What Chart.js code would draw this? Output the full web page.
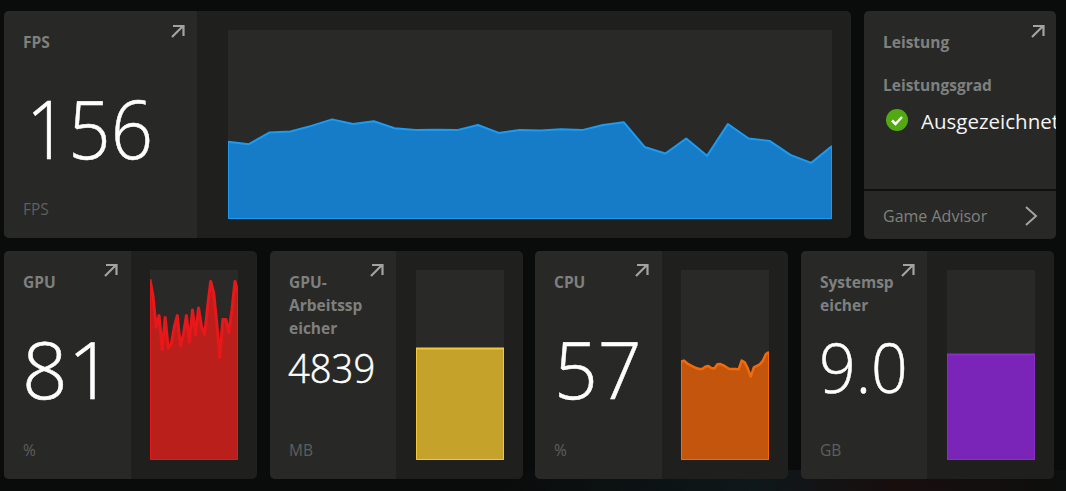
<!DOCTYPE html>
<html>
<head>
<meta charset="utf-8">
<script src="https://cdn.jsdelivr.net/npm/chart.js@4/dist/chart.umd.min.js"></script>
<style>
html, body { margin: 0; padding: 0; width: 1066px; height: 491px; overflow: hidden; }
body { position: relative; background: #0a0c0b; font-family: "Open Sans", "Noto Sans", sans-serif; }
#glow { position: absolute; left: 500px; top: 470px; width: 566px; height: 21px;
    background: linear-gradient(90deg, rgba(20,30,32,0) 0%, rgba(16,28,32,.7) 45%, rgba(34,16,16,.6) 70%, rgba(18,20,20,.3) 100%); }
.card { position: absolute; background: #1f201e; border-radius: 5px; overflow: hidden; }
.side { position: absolute; left: 0; top: 0; bottom: 0; background: #282927; }
.abs { position: absolute; white-space: nowrap; }
.label { color: #7f807e; font-size: 15.5px; font-weight: 700; line-height: 23px; }
.unit { color: #5e5f5d; font-size: 15.5px; line-height: 20px; }
.num { color: #fff; font-weight: 300; line-height: 1; transform-origin: left top; -webkit-text-stroke: 0.5px #fff; }
canvas { position: absolute; display: block; background: #292a28; }
svg { position: absolute; }
</style>
</head>
<body>
<div id="glow"></div>

<div class="card" style="left:4px;top:11px;width:847px;height:227px">
  <div class="side" style="width:193px"></div>
</div>
<div class="card" style="left:864px;top:11px;width:192px;height:228px;background:#282927">
  <div style="position:absolute;left:0;right:0;top:178px;height:2px;background:#0f100f"></div>
</div>
<div class="card" style="left:4px;top:251px;width:253px;height:228px"><div class="side" style="width:127px"></div></div>
<div class="card" style="left:270px;top:251px;width:253px;height:228px"><div class="side" style="width:126px"></div></div>
<div class="card" style="left:535px;top:251px;width:253px;height:228px"><div class="side" style="width:127px"></div></div>
<div class="card" style="left:801px;top:251px;width:253px;height:228px"><div class="side" style="width:126px"></div></div>

<div class="abs label" style="left:23px;top:31px">FPS</div>
<div class="abs num" style="left:26px;top:86px;font-size:82px;transform:scaleX(.905)">156</div>
<div class="abs unit" style="left:23px;top:199px">FPS</div>

<div class="abs label" style="left:883px;top:31px;color:#80817f">Leistung</div>
<div class="abs label" style="left:883px;top:74px">Leistungsgrad</div>
<div class="abs" style="left:921px;top:107px;color:#f4f4f4;font-size:20.500px;line-height:28px;width:135px;overflow:hidden">Ausgezeichnet</div>
<div class="abs" style="left:883px;top:206px;color:#80817f;font-size:16px;line-height:20px">Game Advisor</div>

<div class="abs label" style="left:23px;top:271px">GPU</div>
<div class="abs num" style="left:22px;top:328px;font-size:80px">81</div>
<div class="abs unit" style="left:23px;top:440px">%</div>

<div class="abs label" style="left:289px;top:271px">GPU-<br>Arbeitssp<br>eicher</div>
<div class="abs num" style="left:288px;top:348px;font-size:40px;transform:scaleX(.955)">4839</div>
<div class="abs unit" style="left:289px;top:440px">MB</div>

<div class="abs label" style="left:554px;top:271px">CPU</div>
<div class="abs num" style="left:554px;top:328px;font-size:80px;transform:scaleX(.96)">57</div>
<div class="abs unit" style="left:554px;top:440px">%</div>

<div class="abs label" style="left:820px;top:271px">Systemsp<br>eicher</div>
<div class="abs num" style="left:819px;top:333px;font-size:68px;transform:scaleX(.945)">9.0</div>
<div class="abs unit" style="left:820px;top:440px">GB</div>

<canvas id="fpsChart" width="604" height="189" style="left:228px;top:30px"></canvas>
<canvas id="gpuChart" width="88" height="190" style="left:150px;top:270px"></canvas>
<canvas id="vramChart" width="88" height="190" style="left:416px;top:270px"></canvas>
<canvas id="cpuChart" width="88" height="190" style="left:681px;top:270px"></canvas>
<canvas id="ramChart" width="88" height="190" style="left:947px;top:270px"></canvas>

<svg style="left:0;top:0" width="1066" height="491" fill="none" stroke="#a3a4a2" stroke-width="2.200">
  <g id="arrows">
    <path d="M172 37 L183 26 M173 26 H183.500 V36"/>
    <path d="M1032 37 L1043 26 M1033 26 H1043.500 V36"/>
    <path d="M105 276 L116 265 M106 265 H116.500 V275"/>
    <path d="M371 276 L382 265 M372 265 H382.500 V275"/>
    <path d="M636 276 L647 265 M637 265 H647.500 V275"/>
    <path d="M902 276 L913 265 M903 265 H913.500 V275"/>
  </g>
  <path d="M1026 207 L1036 216 L1026 225" stroke-width="2"/>
  <circle cx="897" cy="120" r="11" fill="#52a911" stroke="none"/>
  <path d="M892 120.500 L895.500 124 L902 117" stroke="#fff" stroke-width="2.500"/>
</svg>

<script>
const fpsValues = [165, 160, 185, 187, 199, 213, 203, 209, 194, 190, 191, 190, 201, 184, 190,
    189, 192, 190, 201, 207, 154, 140, 172, 135, 203, 172, 167, 137, 120, 156];
const gpuValues = [95, 86, 70, 76, 58, 75, 59, 61, 70, 76, 60, 66, 76, 62, 79,
    66, 80, 70, 66, 81, 94, 88, 72, 54, 74, 74, 67, 79, 94, 88];
const vramValues = [4839, 4839, 4839, 4839, 4839, 4839, 4839, 4839, 4839, 4839, 4839, 4839, 4839, 4839, 4839,
    4839, 4839, 4839, 4839, 4839, 4839, 4839, 4839, 4839, 4839, 4839, 4839, 4839, 4839, 4839];
const cpuValues = [51.8, 52.3, 50.9, 50, 49.1, 48.4, 47.9, 47.9, 49.1, 49.5, 48.4, 48.2, 50.4, 50.5, 49.8,
    48.8, 47.9, 47.9, 47.9, 47.7, 52.3, 51.4, 48.2, 43.9, 48.8, 49.5, 50.4, 52.3, 55.8, 56.8];
const ramValues = [9.0, 9.0, 9.0, 9.0, 9.0, 9.0, 9.0, 9.0, 9.0, 9.0, 9.0, 9.0, 9.0, 9.0, 9.0,
    9.0, 9.0, 9.0, 9.0, 9.0, 9.0, 9.0, 9.0, 9.0, 9.0, 9.0, 9.0, 9.0, 9.0, 9.0];

// thin lighter border on the sides and bottom of the filled area
const areaEdge = {
    id: 'areaEdge',
    afterDatasetsDraw(chart) {
        const pts = chart.getDatasetMeta(0).data;
        const { ctx, chartArea } = chart;
        const ds = chart.data.datasets[0];
        ctx.save();
        ctx.strokeStyle = ds.borderColor;
        ctx.lineWidth = 1;
        ctx.beginPath();
        ctx.moveTo(chartArea.left + 0.5, pts[0].y);
        ctx.lineTo(chartArea.left + 0.5, chartArea.bottom - 0.5);
        ctx.lineTo(chartArea.right - 0.5, chartArea.bottom - 0.5);
        ctx.lineTo(chartArea.right - 0.5, pts[pts.length - 1].y);
        ctx.stroke();
        ctx.restore();
    }
};

function drawArea(id, values, maxValue, fillColor, lineColor, lineWidth) {
    return new Chart(document.getElementById(id), {
        type: 'line',
        plugins: [areaEdge],
        data: {
            labels: values.map((v, i) => i),
            datasets: [{
                data: values,
                fill: 'origin',
                backgroundColor: fillColor,
                borderColor: lineColor,
                borderWidth: lineWidth,
                borderJoinStyle: 'round',
                pointRadius: 0,
                tension: 0
            }]
        },
        options: {
            responsive: false,
            animation: false,
            devicePixelRatio: 1,
            layout: { padding: 0 },
            plugins: { legend: { display: false }, tooltip: { enabled: false } },
            scales: {
                x: { display: false, offset: false },
                y: { display: false, min: 0, max: maxValue }
            }
        }
    });
}

drawArea('fpsChart', fpsValues, 404, '#177cc7', '#1c9bf0', 2);
drawArea('gpuChart', gpuValues, 100, '#bb1f1c', '#e81719', 3);
drawArea('vramChart', vramValues, 8250, '#c5a22a', '#f0c93a', 2);
drawArea('cpuChart', cpuValues, 100, '#c4550c', '#f26a0c', 2.5);
drawArea('ramChart', ramValues, 16.2, '#7b25b8', '#8a2bcc', 2);
</script>
</body>
</html>
